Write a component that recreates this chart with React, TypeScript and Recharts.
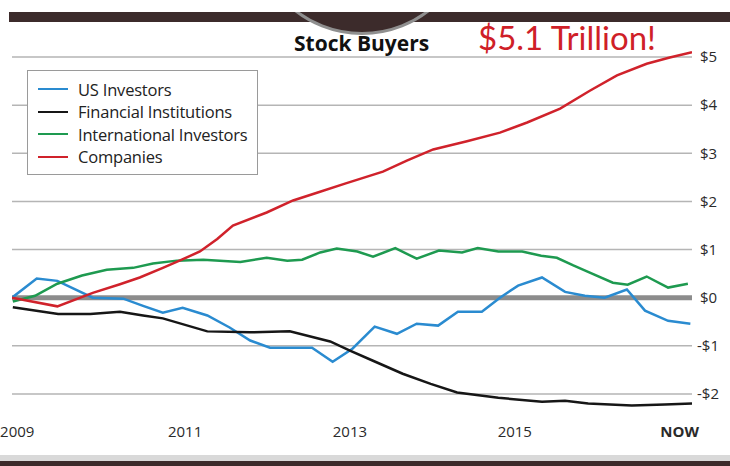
import React from "react";
import { LineChart, Line, XAxis, YAxis, CartesianGrid, ReferenceLine, Legend } from "recharts";

// x positions are decimal years, values are trillions of dollars
const X_TICKS = [2009, 2011, 2013, 2015, 2017];
const X_LABELS = ["2009", "2011", "2013", "2015", "NOW"];
const Y_TICKS = [-2, -1, 0, 1, 2, 3, 4, 5];

const US_T = [2008.9, 2009.2, 2009.45, 2009.88, 2010.25, 2010.49, 2010.73, 2010.97, 2011.27, 2011.54, 2011.79, 2012.03, 2012.54, 2012.79, 2013.03, 2013.3, 2013.57, 2013.81, 2014.07, 2014.31, 2014.6, 2014.82, 2015.04, 2015.33, 2015.61, 2015.85, 2016.09, 2016.36, 2016.58, 2016.86, 2017.13];
const US_V = [0, 0.4, 0.35, 0, -0.02, -0.17, -0.31, -0.21, -0.37, -0.62, -0.89, -1.04, -1.04, -1.33, -1.06, -0.6, -0.75, -0.54, -0.58, -0.29, -0.29, 0, 0.25, 0.42, 0.12, 0.04, 0, 0.17, -0.27, -0.48, -0.54];

const FIN_T = [2008.91, 2009.46, 2009.85, 2010.21, 2010.49, 2010.73, 2011.27, 2011.79, 2012.27, 2012.76, 2013.0, 2013.28, 2013.64, 2013.98, 2014.3, 2014.8, 2015.33, 2015.61, 2015.89, 2016.42, 2016.82, 2017.15];
const FIN_V = [-0.2, -0.34, -0.34, -0.29, -0.37, -0.43, -0.7, -0.72, -0.7, -0.91, -1.1, -1.31, -1.58, -1.79, -1.97, -2.08, -2.16, -2.14, -2.2, -2.24, -2.22, -2.2];

const INTL_T = [2008.91, 2009.18, 2009.45, 2009.75, 2010.05, 2010.37, 2010.61, 2010.9, 2011.22, 2011.67, 2011.99, 2012.24, 2012.42, 2012.64, 2012.84, 2013.09, 2013.28, 2013.55, 2013.81, 2014.08, 2014.36, 2014.55, 2014.8, 2015.09, 2015.32, 2015.51, 2015.71, 2015.91, 2016.19, 2016.37, 2016.6, 2016.86, 2017.1];
const INTL_V = [-0.08, 0.04, 0.29, 0.46, 0.58, 0.62, 0.71, 0.77, 0.79, 0.74, 0.83, 0.77, 0.79, 0.94, 1.02, 0.96, 0.85, 1.03, 0.81, 0.98, 0.94, 1.03, 0.96, 0.96, 0.87, 0.83, 0.67, 0.52, 0.31, 0.27, 0.44, 0.21, 0.29];

const CO_T = [2008.9, 2009.45, 2009.88, 2010.21, 2010.45, 2010.73, 2010.96, 2011.18, 2011.39, 2011.58, 2011.99, 2012.31, 2012.6, 2012.94, 2013.4, 2013.69, 2014.01, 2014.42, 2014.82, 2015.15, 2015.55, 2015.91, 2016.24, 2016.6, 2016.88, 2017.15];
const CO_V = [0, -0.18, 0.1, 0.28, 0.42, 0.62, 0.79, 0.96, 1.22, 1.5, 1.77, 2.02, 2.18, 2.37, 2.62, 2.85, 3.08, 3.25, 3.43, 3.64, 3.93, 4.3, 4.62, 4.86, 4.99, 5.1];

const toPoints = (t: number[], v: number[]) => t.map((x, i) => ({ t: x, v: v[i] }));

const series = [
  { name: "US Investors", color: "#2a8bd0", data: toPoints(US_T, US_V) },
  { name: "Financial Institutions", color: "#161616", data: toPoints(FIN_T, FIN_V) },
  { name: "International Investors", color: "#1e9a50", data: toPoints(INTL_T, INTL_V) },
  { name: "Companies", color: "#d0222b", data: toPoints(CO_T, CO_V) },
];
const SERIES_ORDER = series.map((s) => s.name);

const FONT = "'Open Sans', sans-serif";

const XTick = (props: any) => {
  const { x, y, payload } = props;
  const i = X_TICKS.indexOf(payload.value);
  const label = X_LABELS[i];
  return (
    <text x={x} y={y} dy="0.71em" dx={i === 0 ? -3 : 0} textAnchor="middle" fill="#2a2a2a" fontSize={15}
      fontFamily={FONT} fontWeight={label === "NOW" ? 700 : 400}>
      {label}
    </text>
  );
};

const YTick = (props: any) => {
  const { x, y, payload } = props;
  const v = payload.value;
  return (
    <text x={x} y={y} dy="0.35em" dx={v < 0 ? -3 : 0} textAnchor="start" fill="#2a2a2a" fontSize={15} fontFamily={FONT}>
      {v < 0 ? `-$${-v}` : `$${v}`}
    </text>
  );
};

const LegendBox = (props: any) => {
  const items = [...(props.payload || [])].sort(
    (a: any, b: any) => SERIES_ORDER.indexOf(a.value) - SERIES_ORDER.indexOf(b.value)
  );
  return (
    <div style={{ background: "#fff", border: "1.5px solid #9a9a9a", padding: "7px 0 6px 10px", fontFamily: FONT }}>
      {items.map((p: any) => (
        <div key={p.value} style={{ display: "flex", alignItems: "center", height: 22.5 }}>
          <span style={{ width: 30, height: 2, background: p.color, marginRight: 10 }} />
          <span style={{ fontSize: 16.5, color: "#222", letterSpacing: -0.2 }}>{p.value}</span>
        </div>
      ))}
    </div>
  );
};

export default function App() {
  return (
    <div style={{ position: "absolute", left: 0, top: 0, width: 730, height: 466, background: "#fff", overflow: "hidden" }}>
      <LineChart width={730} height={466} margin={{ top: 33, right: 0, bottom: 18, left: 12 }}>
        <CartesianGrid vertical={false} stroke="#b5b5b5" strokeWidth={1.5} horizontalValues={Y_TICKS} />
        <XAxis type="number" dataKey="t" domain={[2008.9, 2017.15]} ticks={X_TICKS} allowDataOverflow
          axisLine={false} tickLine={false} height={30} tick={<XTick />} />
        <YAxis type="number" orientation="right" domain={[-2.5, 5.5]} ticks={Y_TICKS} width={38}
          axisLine={false} tickLine={false} tick={<YTick />} />
        <ReferenceLine y={0} stroke="#8c8c8c" strokeWidth={5} />
        <Legend layout="vertical" align="center" verticalAlign="middle" content={<LegendBox />}
          wrapperStyle={{ left: 27, top: 70, width: 231 }} />
        {series.map((s) => (
          <Line key={s.name} data={s.data} dataKey="v" name={s.name} stroke={s.color} strokeWidth={2.5}
            dot={false} type="linear" isAnimationActive={false} />
        ))}
      </LineChart>

      {/* header band and photo edge */}
      <div style={{ position: "absolute", left: 9, top: 12, right: 0, height: 10, background: "#3c2b2b" }} />
      <div style={{ position: "absolute", left: 0, top: 12, width: 730, height: 30, overflow: "hidden" }}>
        <div style={{ position: "absolute", left: 362 - 110, top: 35 - 12 - 220, width: 220, height: 220, borderRadius: "50%",
          background: "#3c2b2b", border: "3px solid #8f8f8f", boxSizing: "border-box" }} />
      </div>
      <div style={{ position: "absolute", left: 294, top: 29, fontFamily: FONT, fontWeight: 700, fontSize: 21,
        letterSpacing: 0, color: "#111" }}>Stock Buyers</div>
      <div style={{ position: "absolute", left: 478, top: 17, fontFamily: "Lato, sans-serif", fontSize: 33,
        color: "#cf1f28" }}>$5.1 Trillion!</div>

      {/* footer band */}
      <div style={{ position: "absolute", left: 0, top: 455, width: 730, height: 6, background: "#d9d9d9" }} />
      <div style={{ position: "absolute", left: 0, top: 461, width: 730, height: 5, background: "#3c2b2b" }} />
    </div>
  );
}
